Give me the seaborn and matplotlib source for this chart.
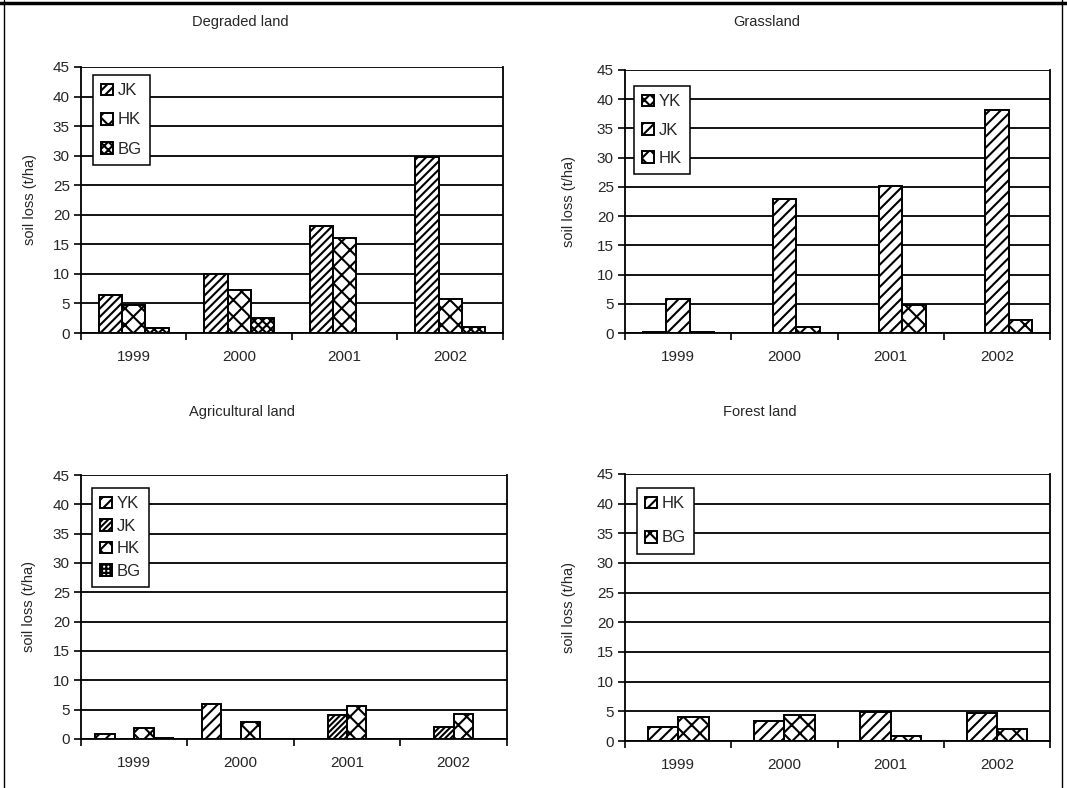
import numpy as np
import pandas as pd
import matplotlib
matplotlib.use("Agg")
import matplotlib.pyplot as plt
from matplotlib.lines import Line2D
import seaborn as sns

years = ["1999", "2000", "2001", "2002"]

# Degraded land
degraded_series = ["JK", "HK", "BG"]
degraded_jk = [6.4, 10.0, 18.1, 29.7]
degraded_hk = [4.7, 7.2, 16.1, 5.8]
degraded_bg = [0.8, 2.5, 0.0, 1.1]

# Grassland
grass_series = ["YK", "JK", "HK"]
grass_yk = [0.1, 0.0, 0.0, 0.0]
grass_jk = [5.9, 23.0, 25.2, 38.2]
grass_hk = [0.2, 1.0, 4.8, 2.3]

# Agricultural land
agri_series = ["YK", "JK", "HK", "BG"]
agri_yk = [0.9, 5.9, 0.0, 0.0]
agri_jk = [0.0, 0.0, 4.1, 2.0]
agri_hk = [1.8, 2.9, 5.6, 4.3]
agri_bg = [0.2, 0.0, 0.0, 0.0]

# Forest land
forest_series = ["HK", "BG"]
forest_hk = [2.3, 3.3, 4.9, 4.7]
forest_bg = [4.0, 4.4, 0.8, 2.1]

panels = [
    ("Degraded land", degraded_series, [degraded_jk, degraded_hk, degraded_bg],
     ["////", "xx", "xxxx"]),
    ("Grassland", grass_series, [grass_yk, grass_jk, grass_hk],
     ["xxx", "///", "xx"]),
    ("Agricultural land", agri_series, [agri_yk, agri_jk, agri_hk, agri_bg],
     ["///", "//////", "xx", "++++"]),
    ("Forest land", forest_series, [forest_hk, forest_bg],
     ["///", "xx"]),
]

sns.set_style("white")
plt.rcParams["font.family"] = ["Liberation Sans", "DejaVu Sans"]
plt.rcParams["hatch.linewidth"] = 1.5

fig = plt.figure(figsize=(10.67, 7.88), dpi=100)

axes_rects = [
    (0.0759, 0.5774, 0.3955, 0.3376),
    (0.5858, 0.5774, 0.3983, 0.3338),
    (0.0759, 0.0622, 0.3990, 0.3350),
    (0.5858, 0.0596, 0.3983, 0.3390),
]
title_pos = [(240, 22), (767, 22), (242, 412), (760, 412)]
legend_pos = [(93, 75, 0.85), (634, 86, 0.8), (92, 488, 0.45), (637, 488, 1.15)]
ylabel_x = [-0.105, -0.115, -0.105, -0.115]

W, H = 1067, 788

for i, (title, series, values, hatches) in enumerate(panels):
    ax = fig.add_axes(axes_rects[i])
    rows = []
    for s, vals in zip(series, values):
        for y, v in zip(years, vals):
            rows.append({"year": y, "series": s, "value": v})
    df = pd.DataFrame(rows)
    n = len(series)
    sns.barplot(data=df, x="year", y="value", hue="series", hue_order=series,
                order=years, palette={s: "white" for s in series},
                saturation=1, edgecolor="black", linewidth=1.4,
                width=n / (n + 1.5), errorbar=None, legend=False, ax=ax)
    for cont, hatch in zip(ax.containers, hatches):
        for p in cont:
            p.set_hatch(hatch)

    ax.set_ylim(0, 45)
    ax.set_xlim(-0.5, 3.5)
    ax.set_yticks(np.arange(0, 46, 5))
    ax.yaxis.grid(True, color="black", linewidth=1.3)
    ax.set_axisbelow(True)
    ax.set_xticks([-0.5, 0.5, 1.5, 2.5, 3.5])
    ax.set_xticklabels([])
    ax.set_xticks([0, 1, 2, 3], labels=years, minor=True)
    ax.tick_params(axis="x", which="major", length=5, width=1.2, direction="out",
                   color="black", bottom=True)
    ax.tick_params(axis="x", which="minor", length=0, pad=12, labelsize=11)
    ax.tick_params(axis="y", length=5, width=1.2, direction="out", color="black",
                   left=True, labelsize=11, pad=3)
    for side in ["left", "bottom", "right"]:
        ax.spines[side].set_visible(True)
        ax.spines[side].set_color("black")
        ax.spines[side].set_linewidth(1.3)
    ax.spines["top"].set_visible(False)
    ax.set_xlabel("")
    ax.set_ylabel("soil loss (t/ha)", fontsize=10.5)
    ax.yaxis.set_label_coords(ylabel_x[i], 0.5)

    lx, ly, spacing = legend_pos[i]
    ax.legend(handles=list(ax.containers), labels=series, loc="upper left",
              bbox_to_anchor=(lx / W, 1 - ly / H), bbox_transform=fig.transFigure,
              borderaxespad=0, frameon=True, fancybox=False, edgecolor="black",
              framealpha=1, fontsize=12, handlelength=0.7, handleheight=0.7,
              handletextpad=0.3, borderpad=0.5, labelspacing=spacing)
    ax.get_legend().get_frame().set_linewidth(1.1)

    tx, ty = title_pos[i]
    fig.text(tx / W, 1 - ty / H, title, ha="center", va="center", fontsize=10.5)

# Outer frame around the figure
fig.add_artist(Line2D([4 / W, 4 / W], [0, 1], transform=fig.transFigure,
                      color="black", lw=1))
fig.add_artist(Line2D([1062 / W, 1062 / W], [0, 1], transform=fig.transFigure,
                      color="black", lw=1))
fig.add_artist(Line2D([0, 1], [1 - 3 / H, 1 - 3 / H], transform=fig.transFigure,
                      color="black", lw=2.5))

fig.savefig("out.png", dpi=100)
